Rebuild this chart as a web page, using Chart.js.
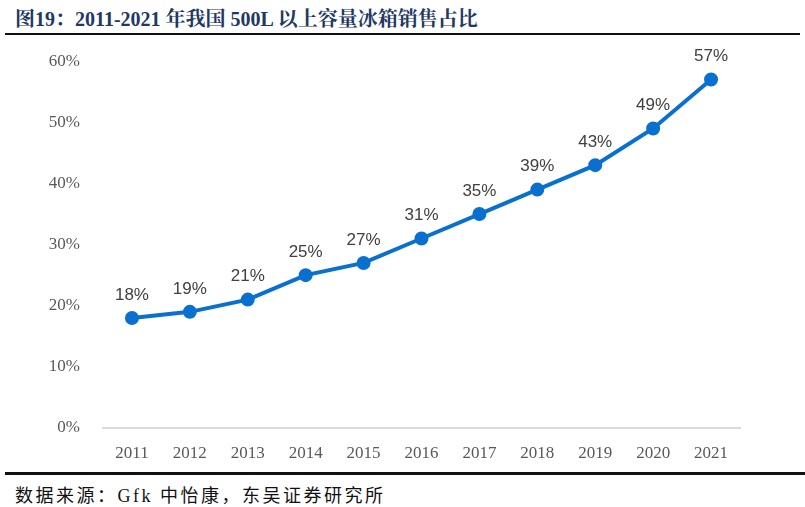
<!DOCTYPE html>
<html><head><meta charset="utf-8">
<script src="https://cdn.jsdelivr.net/npm/chart.js@4"></script>
<style>
html,body{margin:0;padding:0;background:#fff;width:805px;height:507px;overflow:hidden;}
#title{position:absolute;left:15px;top:3px;font-family:"Liberation Serif","Noto Serif CJK SC","Noto Sans CJK SC",serif;font-weight:bold;font-size:20px;color:#1f3864;white-space:nowrap;}
#tline{position:absolute;left:5px;top:33px;width:795px;height:2px;background:#111;}
#bline{position:absolute;left:5px;top:472px;width:800px;height:3px;background:#111;}
#src{position:absolute;left:15px;top:481px;font-family:"Liberation Serif","Noto Sans CJK SC",serif;font-size:18px;letter-spacing:2.5px;color:#111;white-space:nowrap;}
#wrap{position:absolute;left:0;top:36px;width:805px;height:429px;}
</style></head><body>
<div id="title">图19：2011-2021 年我国 500L 以上容量冰箱销售占比</div>
<div id="tline"></div>
<div id="wrap"><canvas id="c"></canvas></div>
<div id="bline"></div>
<div id="src">数据来源：Gfk 中怡康，东吴证券研究所</div>
<script>
const years = ['2011','2012','2013','2014','2015','2016','2017','2018','2019','2020','2021'];
const shares = [18,19,21,25,27,31,35,39,43,49,57];
const yTicks = [0,10,20,30,40,50,60];

const labelPlugin = {
  id:'lbl',
  afterDatasetsDraw(chart){
    const ctx = chart.ctx;
    const meta = chart.getDatasetMeta(0);
    ctx.save();
    ctx.font = '17px "Liberation Sans", Arial, sans-serif';
    ctx.fillStyle = '#404040';
    ctx.textAlign = 'center';
    ctx.textBaseline = 'middle';
    meta.data.forEach((p,i)=>{
      ctx.fillText(shares[i]+'%', p.x, p.y-23);
    });
    ctx.restore();
  }
};

new Chart(document.getElementById('c'),{
  type:'line',
  data:{labels:years,datasets:[{data:shares,borderColor:'#0a70d0',backgroundColor:'#0a70d0',borderWidth:4,pointRadius:5,pointHoverRadius:5,tension:0,fill:false}]},
  options:{
    responsive:true,maintainAspectRatio:false,animation:false,
    layout:{padding:{left:0,right:65,top:14,bottom:0}},
    plugins:{legend:{display:false},tooltip:{enabled:false}},
    scales:{
      x:{
        offset:true,
        grid:{display:false},
        border:{display:true,color:'#d9d9d9',width:2},
        ticks:{color:'#595959',font:{family:'"Liberation Serif", serif',size:17},padding:7},
        afterFit(s){s.height=37;}
      },
      y:{
        min:0,max:60,
        afterBuildTicks(s){s.ticks=yTicks.map(v=>({value:v}));},
        grid:{display:false},
        border:{display:false},
        ticks:{color:'#595959',font:{family:'"Liberation Serif", serif',size:17},padding:15,callback:v=>v+'%'},
        afterFit(s){s.width=103;}
      }
    }
  },
  plugins:[labelPlugin]
});
</script>
</body></html>
